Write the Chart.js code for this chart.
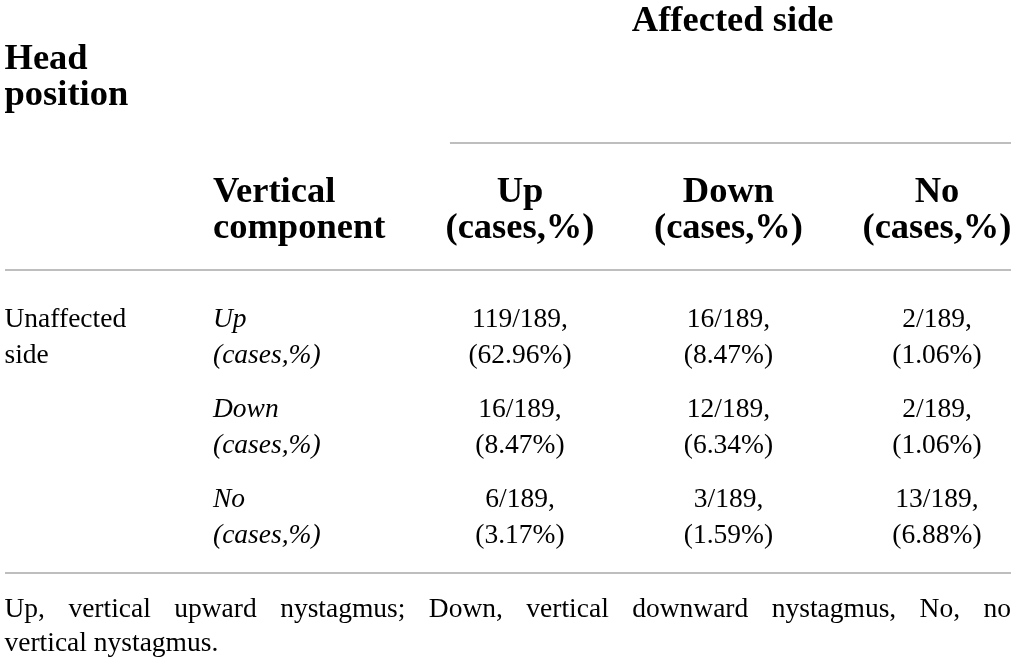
<!DOCTYPE html>
<html lang="en">
  <head>
    <meta charset="utf-8" />
    <title>Head position table</title>
    <script src="https://cdn.jsdelivr.net/npm/chart.js@4.4.0/dist/chart.umd.min.js"></script>
    <style>
      html, body { margin: 0; padding: 0; background: #fff; }
      #wrap { width: 1017px; height: 664px; }
    </style>
  </head>
  <body>
    <div id="wrap"><canvas id="table" width="1017" height="664"></canvas></div>

    <script>
      // table values
      var rowGroup = ["Unaffected", "side"];
      var colGroup = "Affected side";
      var cornerLabel = ["Head", "position"];
      var componentLabel = ["Vertical", "component"];
      var affectedCols = ["Up", "Down", "No"];
      var unaffectedRows = ["Up", "Down", "No"];
      var unitLabel = "(cases,%)";
      var total = 189;
      var cases = [
        [119, 16, 2],
        [16, 12, 2],
        [6, 3, 13],
      ];
      var percents = [
        [62.96, 8.47, 1.06],
        [8.47, 6.34, 1.06],
        [3.17, 1.59, 6.88],
      ];
      var footnote = [
        "Up, vertical upward nystagmus; Down, vertical downward nystagmus, No, no",
        "vertical nystagmus.",
      ];

      var SERIF = '"Liberation Serif", "Times New Roman", serif';
      var BODY = "27.5px " + SERIF;
      var ITAL = "italic 27.5px " + SERIF;
      var BOLD = "bold 36.5px " + SERIF;
      var LINE = 36.5;
      var HALF_COL = 0.4724; // from column centre to left edge, in column units

      // one point per cell, placed on the column / row scales
      var cellPoints = [];
      for (var r = 0; r < cases.length; r++) {
        for (var c = 0; c < cases[r].length; c++) {
          cellPoints.push({ x: c + 2, y: r + 1, r: r, c: c });
        }
      }
      var rowPoints = unaffectedRows.map(function (name, i) {
        return { x: 1, y: i + 1 };
      });
      var colPoints = affectedCols.map(function (name, i) {
        return { x: i + 2, y: -0.389 };
      });

      function drawLines(ctx, lines, x, mid, align) {
        ctx.textAlign = align;
        var top = mid - ((lines.length - 1) * LINE) / 2;
        lines.forEach(function (t, i) {
          ctx.fillText(t, x, top + i * LINE);
        });
      }

      function justify(ctx, text, left, right, y) {
        var words = text.split(" ");
        var w = 0;
        words.forEach(function (s) { w += ctx.measureText(s).width; });
        var gap = (right - left - w) / (words.length - 1);
        var x = left;
        ctx.textAlign = "left";
        words.forEach(function (s) {
          ctx.fillText(s, x, y);
          x += ctx.measureText(s).width + gap;
        });
      }

      var tablePlugin = {
        id: "tableText",
        afterDatasetsDraw: function (chart) {
          var ctx = chart.ctx;
          var xs = chart.scales.x, ys = chart.scales.y;
          var px = function (v) { return xs.getPixelForValue(v); };
          var py = function (v) { return ys.getPixelForValue(v); };
          ctx.save();
          ctx.fillStyle = "#000";
          ctx.textBaseline = "alphabetic";

          // rules
          ctx.strokeStyle = "#a8a8a8";
          ctx.lineWidth = 1.5;
          [[1.664, 4.355, -1.244], [-0.47, 4.355, 0.167], [-0.47, 4.355, 3.533]].forEach(function (l) {
            ctx.beginPath();
            ctx.moveTo(px(l[0]), py(l[2]));
            ctx.lineTo(px(l[1]), py(l[2]));
            ctx.stroke();
          });

          // headers
          ctx.font = BOLD;
          ctx.textAlign = "center";
          ctx.fillText(colGroup, px(3.02), py(-2.489));
          drawLines(ctx, cornerLabel, px(-HALF_COL), py(-1.867), "left");
          drawLines(ctx, componentLabel, px(1 - HALF_COL), py(-0.389), "left");
          chart.getDatasetMeta(2).data.forEach(function (el, i) {
            drawLines(ctx, [affectedCols[i], unitLabel], el.x, el.y, "center");
          });

          // row group and row labels
          ctx.font = BODY;
          drawLines(ctx, rowGroup, px(-HALF_COL), py(1), "left");
          ctx.font = ITAL;
          chart.getDatasetMeta(1).data.forEach(function (el, i) {
            drawLines(ctx, [unaffectedRows[i], unitLabel], el.x - (px(1) - px(1 - HALF_COL)), el.y, "left");
          });

          // cells
          ctx.font = BODY;
          chart.getDatasetMeta(0).data.forEach(function (el, i) {
            var p = cellPoints[i];
            drawLines(ctx, [
              cases[p.r][p.c] + "/" + total + ",",
              "(" + percents[p.r][p.c].toFixed(2) + "%)",
            ], el.x, el.y, "center");
          });

          // footnote
          justify(ctx, footnote[0], px(-HALF_COL), px(4.355), py(4.206) - 17);
          ctx.textAlign = "left";
          ctx.fillText(footnote[1], px(-HALF_COL), py(4.206) + 17);
          ctx.restore();
        },
      };

      var ctx = document.getElementById("table").getContext("2d");
      var chart = new Chart(ctx, {
        type: "scatter",
        data: {
          datasets: [
            { label: "cells", data: cellPoints, pointRadius: 0 },
            { label: "rows", data: rowPoints, pointRadius: 0 },
            { label: "cols", data: colPoints, pointRadius: 0 },
          ],
        },
        options: {
          responsive: false,
          animation: false,
          events: [],
          layout: { padding: 0 },
          plugins: { legend: { display: false }, tooltip: { enabled: false } },
          scales: {
            x: { type: "linear", display: false, min: -0.494, max: 4.3837 },
            y: { type: "linear", display: false, reverse: true, min: -2.8333, max: 4.5444 },
          },
        },
        plugins: [tablePlugin],
      });
    </script>
  </body>
</html>
